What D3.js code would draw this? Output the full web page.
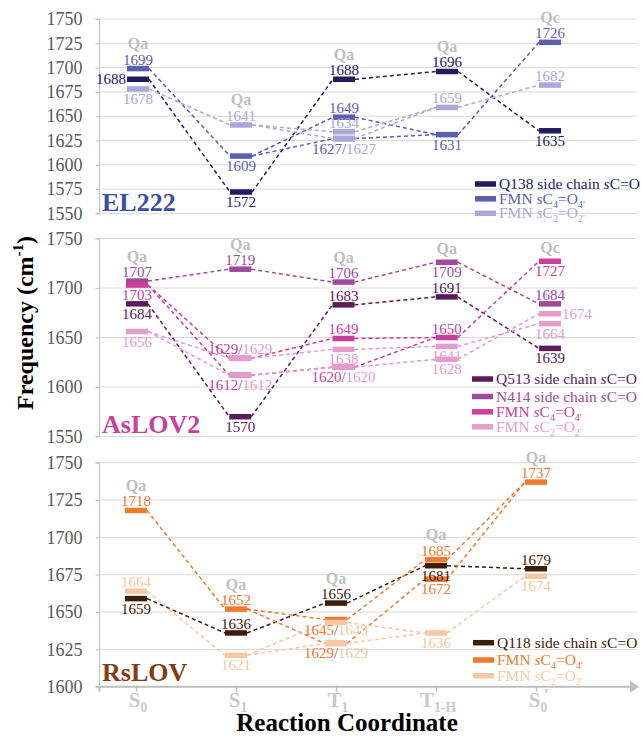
<!DOCTYPE html>
<html><head><meta charset="utf-8">
<script src="https://cdn.jsdelivr.net/npm/d3@7"></script>
<style>body{margin:0;background:#fff}svg{display:block}svg text{font-family:'Liberation Serif','Times New Roman',serif}</style>
</head><body><svg id="c" width="641" height="736"></svg>
<script>
// ---------- DATA ----------
const categories = ["S0", "S1", "T1", "T1-H", "S0'"];
const categoryLabels = [
  [["S",""],["0","sub"]],
  [["S",""],["1","sub"]],
  [["T",""],["1","sub"]],
  [["T",""],["1-H","sub"]],
  [["S",""],["0","sub"],["'","prime"]]
];
// EL222
const el222Ticks = [1550,1575,1600,1625,1650,1675,1700,1725,1750];
const el222Q138 = [1688,1572,1688,1696,1635];
const el222C4   = [1699,1609,[1649,1627],1631,1726];
const el222C2   = [1678,1641,[1634,1627],1659,1682];
const el222Q    = ["Qa","Qa","Qa","Qa","Qc"];
// AsLOV2
const asTicks = [1550,1600,1650,1700,1750];
const asQ513 = [1684,1570,1683,1691,1639];
const asN414 = [1707,1719,1706,1726,1684];          // drawn position
const asN414Text = ["1707","1719","1706","1709","1684"]; // printed labels
const asC4 = [1703,[1629,1612],[1649,1620],1650,1727];
const asC2 = [1656,[1629,1612],[1638,1620],[1641,1628],[1664,1674]];
const asQ  = ["Qa","Qa","Qa","Qa","Qc"];
// RsLOV
const rsTicks = [1600,1625,1650,1675,1700,1725,1750];
const rsQ118 = [1659,1636,1656,1681,1679];
const rsC4 = [1718,1652,[1645,1629],[1685,1672],1737];
const rsC2 = [1664,1621,[1643,1629],1636,1674];
const rsQ  = ["Qa","Qa","Qa","Qa","Qa"];
// legend names
const nameQ138 = [["Q138 side chain ",""],["s","i"],["C=O",""]];
const nameQ513 = [["Q513 side chain ",""],["s","i"],["C=O",""]];
const nameN414 = [["N414 side chain ",""],["s","i"],["C=O",""]];
const nameQ118 = [["Q118 side chain ",""],["s","i"],["C=O",""]];
const nameC4 = [["FMN ",""],["s","i"],["C",""],["4","sub"],["=O",""],["4'","sub"]];
const nameC2 = [["FMN ",""],["s","i"],["C",""],["2","sub"],["=O",""],["2'","sub"]];

// ---------- LAYOUT ----------
const FONT = "'Liberation Serif','Times New Roman',serif";
const panels = [
  { title:"EL222", titleColor:"#3b4ea6", titleY:211, domain:[1550,1750], range:[213.4,19], xr:[138,550],
    ticks:el222Ticks, qlabels:el222Q, legend:{x:475, ys:[184,198.8,213.3]},
    series:[
      {vals:el222Q138, color:"#221c5e", name:nameQ138, layout:["l","b","a","a","b"]},
      {vals:el222C4, color:"#5c5fae", name:nameC4, layout:["a","b",["a","b/"],"b","a"], pairWith:2},
      {vals:el222C2, color:"#aba7d8", name:nameC2, layout:["b","a",["a","-"],"a","a"]}
    ]},
  { title:"AsLOV2", titleColor:"#c7409b", titleY:433, domain:[1550,1750], range:[436.5,238.5], xr:[137,550],
    ticks:asTicks, qlabels:asQ, legend:{x:472, ys:[379,396.5,411.8,426.8]},
    series:[
      {vals:asQ513, color:"#5a1b59", name:nameQ513, layout:["b","b","a","a","b"]},
      {vals:asN414, text:asN414Text, color:"#a04a9e", name:nameN414, layout:["a","a","a","b","a"]},
      {vals:asC4, color:"#c93f9a", name:nameC4, layout:["b",["a/","b/"],["a","b/"],"a","b"], pairWith:3},
      {vals:asC2, color:"#e49dcb", name:nameC2, layout:["b",["-","-"],["b","-"],["b","b"],["b","r"]]}
    ]},
  { title:"RsLOV", titleColor:"#843c12", titleY:681, domain:[1600,1750], range:[686.7,462.7], xr:[136,536],
    ticks:rsTicks, qlabels:rsQ, legend:{x:473, ys:[642.7,660,675.7]}, xAxis:true,
    series:[
      {vals:rsQ118, color:"#3e1d0b", name:nameQ118, layout:["b","a","a","b","a"]},
      {vals:rsC4, color:"#ed7b30", name:nameC4, layout:["a","a",["b/","b/"],["a","b"],"a"], pairWith:2},
      {vals:rsC2, color:"#f8c7a4", name:nameC2, layout:["a","b",["-","-"],"b","b"]}
    ]}
];

const svg = d3.select("#c").attr("font-family", FONT);
const AX_X = 99.5, GRID_R = 637, BW = 22, BH = 5.5;

function rich(sel, parts, size){
  let shift = 0;
  parts.forEach(([t,type]) => {
    if (type === "prime") return; // drawn separately
    const ts = sel.append("tspan").text(t);
    let target = 0, fs = size;
    if (type === "sub") { target = size*0.25; fs = size*0.65; }
    if (type === "sup") { target = -size*0.42; fs = size*0.62; }
    if (type === "i") ts.attr("font-style","italic");
    ts.attr("font-size", fs).attr("dy", target - shift);
    shift = target;
  });
}
const arr = v => Array.isArray(v) ? v : [v];

panels.forEach(p => {
  const y = d3.scaleLinear().domain(p.domain).range(p.range);
  const x = d3.scalePoint().domain(categories).range(p.xr);
  const g = svg.append("g");

  // gridlines
  g.selectAll(".grid").data(p.ticks).join("line")
    .attr("x1", AX_X).attr("x2", GRID_R).attr("y1", d=>y(d)).attr("y2", d=>y(d))
    .attr("stroke", "#d9d9d9").attr("stroke-width", 1);
  // y axis
  const ax = g.append("g").attr("transform", `translate(${AX_X},0)`)
    .call(d3.axisLeft(y).tickValues(p.ticks).tickFormat(d3.format("d")).tickSize(4).tickPadding(13));
  ax.attr("font-family", FONT);
  ax.select(".domain").attr("stroke", "#bfbfbf").attr("d", `M-4,${y(p.domain[1])}H0V${y(p.domain[0])}H-4`);
  ax.selectAll(".tick line").attr("stroke", "#bfbfbf");
  ax.selectAll(".tick text").attr("font-size", 18).attr("fill", "#595959");

  // title
  g.append("text").attr("x", 102).attr("y", p.titleY).text(p.title)
    .attr("font-size", 26).attr("font-weight", "bold").attr("fill", p.titleColor);

  // lines
  p.series.forEach(s => {
    for (let i = 0; i < categories.length - 1; i++) {
      const A = arr(s.vals[i]), B = arr(s.vals[i+1]);
      const segs = [];
      if (A.length > 1 && B.length > 1) A.forEach((a,k)=>segs.push([a,B[k]]));
      else A.forEach(a => B.forEach(b => segs.push([a,b])));
      segs.forEach(([a,b]) => {
        g.append("line")
          .attr("x1", x(categories[i]) + BW/2).attr("y1", y(a))
          .attr("x2", x(categories[i+1]) - BW/2).attr("y2", y(b))
          .attr("stroke", s.color).attr("stroke-width", 1.5).attr("stroke-dasharray", "4,3");
      });
    }
  });
  // bars
  p.series.forEach(s => {
    s.vals.forEach((v,i) => arr(v).forEach(val => {
      g.append("rect").attr("x", x(categories[i]) - BW/2).attr("y", y(val) - BH/2)
        .attr("width", BW).attr("height", BH).attr("fill", s.color);
    }));
  });
  // value labels
  p.series.forEach((s, si) => {
    s.vals.forEach((v,i) => {
      const vals = arr(v), lays = arr(s.layout[i]);
      vals.forEach((val,k) => {
        const code = lays[k]; if (code === "-") return;
        const cx = x(categories[i]), cy = y(val);
        const t = g.append("text").attr("font-size", 15);
        const txt = s.text ? s.text[i] : String(val);
        if (code[0] === "a") t.attr("x", cx).attr("y", cy - 4).attr("text-anchor", "middle");
        else if (code[0] === "b") t.attr("x", cx).attr("y", cy + 15).attr("text-anchor", "middle");
        else if (code[0] === "l") t.attr("x", cx - BW/2 - 1).attr("y", cy + 5).attr("text-anchor", "end");
        else if (code[0] === "r") t.attr("x", cx + BW/2 + 1).attr("y", cy + 5).attr("text-anchor", "start");
        if (code.endsWith("/")) {
          const ps = p.series[s.pairWith];
          const pv = arr(ps.vals[i])[k];
          t.append("tspan").text(txt).attr("fill", s.color);
          t.append("tspan").text("/").attr("fill", "#6e6e6e");
          t.append("tspan").text(String(pv)).attr("fill", ps.color);
        } else t.text(txt).attr("fill", s.color);
      });
    });
  });
  // Qa / Qc labels
  p.qlabels.forEach((q,i) => {
    let top = Infinity, above = false;
    p.series.forEach(s => {
      const vals = arr(s.vals[i]), lays = arr(s.layout[i]);
      vals.forEach((val,k) => { const yy = y(val); if (yy < top) { top = yy; above = lays[k][0] === "a"; } });
    });
    g.append("text").attr("x", x(categories[i])).attr("y", top - (above ? 25 : 14) + 5.5)
      .attr("text-anchor", "middle").attr("font-size", 16).attr("font-weight", "bold")
      .attr("fill", "#bfbfbf").text(q);
  });
  // legend
  p.series.forEach((s, si) => {
    const ly = p.legend.ys[si];
    g.append("rect").attr("x", p.legend.x).attr("y", ly - 2.75).attr("width", 21).attr("height", 5.5).attr("fill", s.color);
    const t = g.append("text").attr("x", p.legend.x + 24).attr("y", ly + 5).attr("font-size", 15.5).attr("fill", s.color);
    rich(t, s.name, 15.5);
  });

  // x axis
  if (p.xAxis) {
    const ya = y(p.domain[0]);
    const xa = g.append("g").attr("transform", `translate(0,${ya})`)
      .call(d3.axisBottom(x).tickSize(5).tickFormat(""));
    xa.select(".domain").attr("stroke", "#bfbfbf").attr("stroke-width", 2).attr("d", `M${AX_X},5V0H631`);
    xa.selectAll(".tick line").attr("stroke", "#bfbfbf").attr("stroke-width", 1.5);
    g.append("path").attr("d", `M630,${ya-6}L639,${ya}L630,${ya+6}Z`).attr("fill", "#bfbfbf");
    categories.forEach((c,i) => {
      const t = g.append("text").attr("x", x(c) + 2).attr("y", 707).attr("text-anchor", "middle")
        .attr("font-size", 21).attr("font-weight", "bold").attr("fill", "#c9c9c9");
      rich(t, categoryLabels[i], 21);
      const pr = categoryLabels[i].find(d => d[1] === "prime");
      if (pr) {
        g.append("text").attr("x", x(c) + 8).attr("y", 700).attr("font-size", 17).attr("font-weight", "bold")
          .attr("fill", "#c0c0c0").text(pr[0]);
      }
    });
    svg.append("text").attr("x", 347).attr("y", 731).attr("text-anchor", "middle")
      .attr("font-size", 25).attr("font-weight", "bold").attr("fill", "#000").text("Reaction Coordinate");
  }
});

// y axis title
const yt = svg.append("text").attr("transform", "translate(33,323) rotate(-90)").attr("text-anchor", "middle")
  .attr("font-size", 24).attr("font-weight", "bold").attr("fill", "#000");
rich(yt, [["Frequency (cm",""],["-1","sup"],[")",""]], 24);
svg.selectAll("text").style("font-family", FONT);
</script></body></html>
